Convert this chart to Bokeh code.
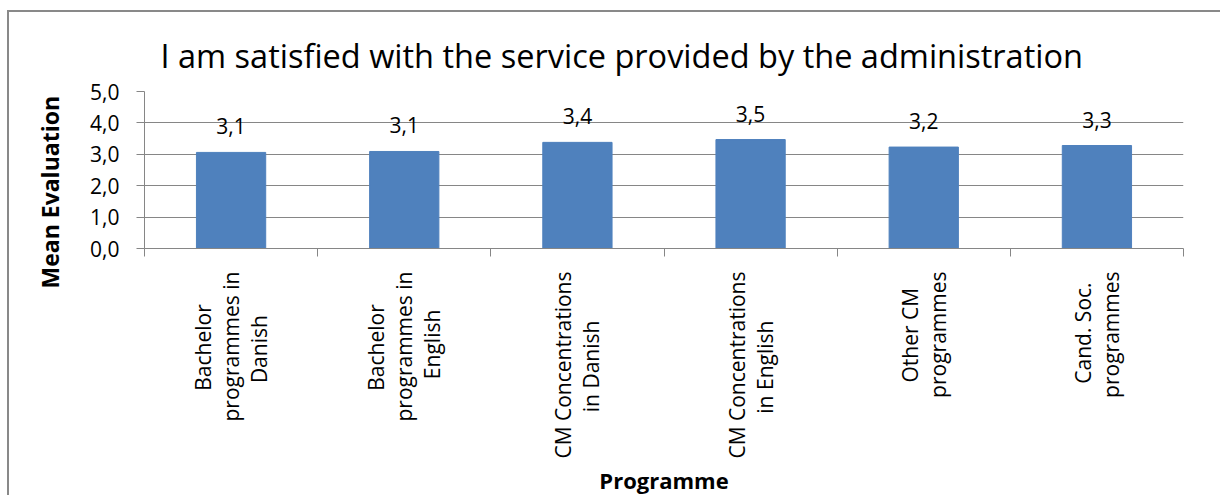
import math
from bokeh.plotting import figure
from bokeh.models import Range1d, FixedTicker, CustomJSTickFormatter, Title
from bokeh.core.properties import value
from bokeh.embed import file_html
from bokeh.resources import INLINE

# ---- data ----
categories = [
    "Bachelor\nprogrammes in\nDanish",
    "Bachelor\nprogrammes in\nEnglish",
    "CM Concentrations\nin Danish",
    "CM Concentrations\nin English",
    "Other CM\nprogrammes",
    "Cand. Soc.\nprogrammes",
]
mean_values = [3.06, 3.09, 3.38, 3.47, 3.23, 3.28]
y_ticks = [0, 1, 2, 3, 4, 5]
title_text = "I am satisfied with the service provided by the administration"
x_title = "Programme"
y_title = "Mean Evaluation"

n = len(categories)
centers = [i + 0.5 for i in range(n)]
boundaries = list(range(n + 1))
value_labels = [f"{v:.1f}".replace(".", ",") for v in mean_values]

FONT = "Open Sans"
GRID = "#868686"
BAR = "#4F81BD"

# approximate Open Sans advance widths (em), used to centre the lines of the
# multi-line category labels (Bokeh right-aligns them when rotated)
_W = {" ": .26, "a": .556, "b": .613, "c": .476, "d": .613, "e": .561, "g": .548,
      "h": .614, "i": .253, "l": .253, "m": .930, "n": .614, "o": .604, "p": .613,
      "r": .408, "s": .477, "t": .353, "v": .531, "B": .634, "C": .631, "D": .720,
      "E": .55, "M": .893, "O": .781, "S": .535, ".": .266}


def _w(s):
    return sum(_W.get(ch, .55) for ch in s)


def centre_lines(label):
    lines = label.split("\n")
    full = max(_w(l) for l in lines)
    return "\n".join(l + "\u00a0" * int(round((full - _w(l)) / 2 / _W[" "])) for l in lines)


tick_labels = [centre_lines(c) for c in categories]

p = figure(
    width=1213, height=485,
    x_range=Range1d(0, n), y_range=Range1d(y_ticks[0], y_ticks[-1]),
    output_backend="svg", toolbar_location=None,
    min_border_left=135, min_border_right=39,
    min_border_top=79, min_border_bottom=249,
)
p.styles = {"margin-left": "7px", "margin-top": "10px",
            "border-left": "2px solid #898989", "border-top": "2px solid #898989"}
p.outline_line_color = None
p.background_fill_color = "white"
p.border_fill_color = "white"

p.vbar(x=centers, top=mean_values, width=0.4, fill_color=BAR, line_color=BAR)

p.text(x=centers, y=mean_values, text=value_labels, text_align="center",
       text_baseline="middle", y_offset=-26, text_font=value(FONT),
       text_font_size="21px", text_color="black")

# grids
p.xgrid.grid_line_color = None
p.ygrid.ticker = FixedTicker(ticks=y_ticks)
p.ygrid.grid_line_color = GRID

# title
p.title.text = title_text
p.title.align = "left"
p.title.offset = 16
p.title.standoff = 28
p.title.text_font = FONT
p.title.text_font_size = "32.5px"
p.title.text_font_style = "normal"
p.title.text_color = "black"

# x axis
xa = p.xaxis[0]
xa.ticker = FixedTicker(ticks=centers, minor_ticks=boundaries)
xa.formatter = CustomJSTickFormatter(args=dict(labels=tick_labels),
                                     code="return labels[Math.round(tick - 0.5)];")
xa.major_label_orientation = math.pi / 2
xa.major_tick_out = 0
xa.major_tick_in = 0
xa.major_tick_line_color = None
xa.minor_tick_out = 8
xa.minor_tick_in = 0
xa.minor_tick_line_color = GRID
xa.axis_line_color = GRID
xa.major_label_standoff = 15
xa.major_label_text_font = FONT
xa.major_label_text_font_size = "21px"
xa.major_label_text_color = "black"
xa.major_label_text_line_height = 1.0
xa.axis_label = x_title
xa.axis_label_standoff = 3
xa.axis_label_text_font = FONT
xa.axis_label_text_font_size = "22px"
xa.axis_label_text_font_style = "bold"
xa.axis_label_text_color = "black"

# y axis
ya = p.yaxis[0]
ya.ticker = FixedTicker(ticks=y_ticks)
ya.formatter = CustomJSTickFormatter(code="return tick.toFixed(1).replace('.', ',');")
ya.major_tick_out = 8
ya.major_tick_in = 0
ya.major_tick_line_color = GRID
ya.minor_tick_line_color = None
ya.axis_line_color = GRID
ya.major_label_standoff = 17
ya.major_label_text_font = FONT
ya.major_label_text_font_size = "21px"
ya.major_label_text_color = "black"

p.add_layout(Title(text=y_title, align="left", offset=-40, standoff=44,
                   text_font=FONT, text_font_size="23px", text_font_style="bold",
                   text_color="black"), "left")

open("out.html", "w").write(file_html(p, INLINE))
